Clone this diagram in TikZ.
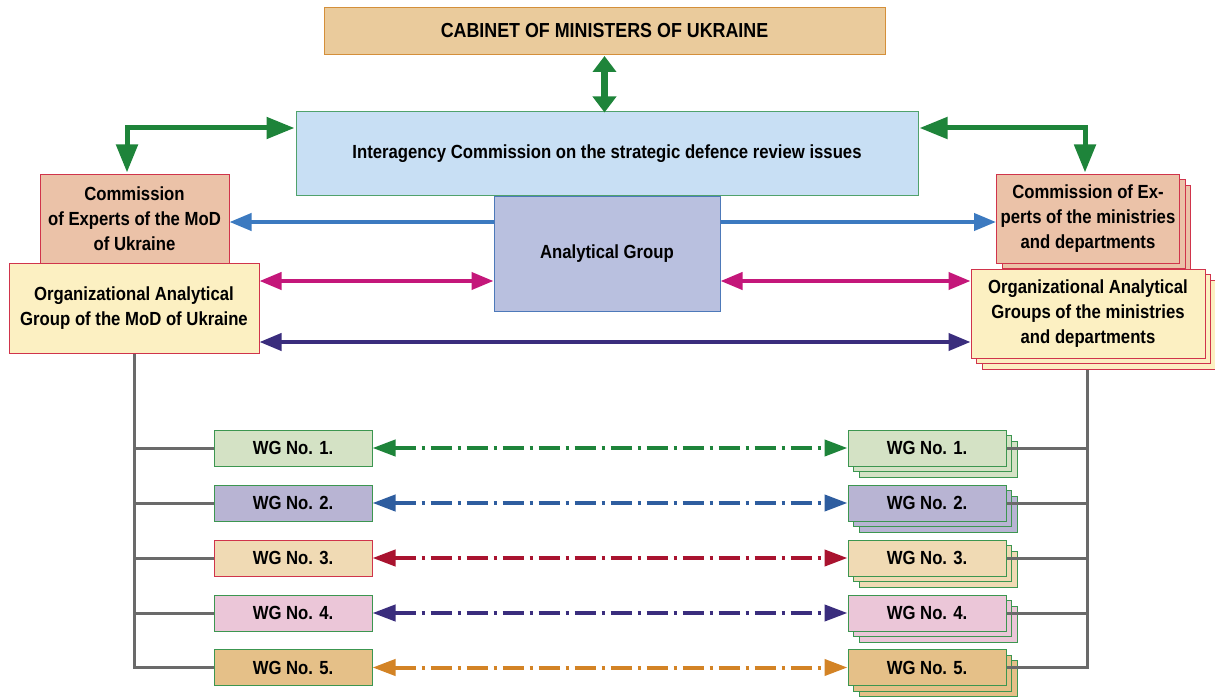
\documentclass[tikz,border=0pt]{standalone}
\usepackage{fontspec}
\setmainfont{Liberation Sans}[FakeStretch=0.88]
\usetikzlibrary{arrows.meta,shadows,backgrounds}
\definecolor{cabfill}{HTML}{EACB9C}
\definecolor{cabdraw}{HTML}{D48F3A}
\definecolor{interfill}{HTML}{C8DFF4}
\definecolor{interdraw}{HTML}{50A26C}
\definecolor{agfill}{HTML}{B9C0DF}
\definecolor{agdraw}{HTML}{4D79B9}
\definecolor{cefill}{HTML}{EBC2A8}
\definecolor{reddraw}{HTML}{D0344B}
\definecolor{oagfill}{HTML}{FCF0C2}
\definecolor{wgone}{HTML}{D4E2C5}
\definecolor{wgtwo}{HTML}{B8B4D3}
\definecolor{wgthree}{HTML}{F0DAB4}
\definecolor{wgfour}{HTML}{EBC6D8}
\definecolor{wgfive}{HTML}{E5C088}
\definecolor{wgdraw}{HTML}{3C9650}
\definecolor{garr}{HTML}{1E843A}
\definecolor{barr}{HTML}{3C7AC0}
\definecolor{marr}{HTML}{C4177A}
\definecolor{parr}{HTML}{3A2D7D}
\definecolor{btwo}{HTML}{2E5D9F}
\definecolor{rthree}{HTML}{A9132F}
\definecolor{ofive}{HTML}{D38325}
\definecolor{linegray}{HTML}{6A6A6A}
\tikzset{
  midtip/.tip={Triangle[width=17pt,length=22pt]},
  bigtip/.tip={Triangle[width=21pt,length=28pt]},
  wgtip/.tip={Triangle[width=16pt,length=23pt]},
  cabtip/.tip={Triangle[width=23pt,length=16pt]},
  box/.style={rectangle, inner sep=0pt, align=center, line width=1pt,
    font=\bfseries\fontsize{19}{25}\selectfont},
  stackbox/.style={copy shadow={shadow xshift=11pt,shadow yshift=-11pt},
    copy shadow={shadow xshift=5.5pt,shadow yshift=-5.5pt}},
  wgbox/.style={box, minimum width=158pt, minimum height=36pt},
  bigarrow/.style={draw=garr, line width=5pt, bigtip-bigtip},
  midarrow/.style={line width=4pt},
  dotarrow/.style={line width=4pt, dash pattern=on 21pt off 6pt on 3pt off 6pt, wgtip-wgtip},
  grayline/.style={draw=linegray, line width=3pt},
}
\begin{document}
\begin{tikzpicture}[x=1pt,y=-1pt]
\useasboundingbox (0,0) rectangle (1215,698);
% top boxes
\node[box, fill=cabfill, draw=cabdraw, minimum width=561pt, minimum height=47pt, font=\bfseries\fontsize{20.3}{25}\selectfont] (cab) at (604.5,31) {CABINET OF MINISTERS OF UKRAINE};
\node[box, fill=interfill, draw=interdraw, minimum width=622pt, minimum height=83pt] (inter) at (607,153.5) {Interagency Commission on the strategic defence review issues};
\node[box, fill=agfill, draw=agdraw, minimum width=226pt, minimum height=115pt] (ag) at (607,254) {Analytical Group};
% left
\node[box, fill=cefill, draw=reddraw, minimum width=189pt, minimum height=89pt] (lce) at (134.5,218.5) {Commission\\of Experts of the MoD\\of Ukraine};
\node[box, fill=oagfill, draw=reddraw, minimum width=250pt, minimum height=90pt] (loag) at (134,308) {Organizational Analytical\\Group of the MoD of Ukraine};
% right
\node[box, stackbox, fill=cefill, draw=reddraw, minimum width=183pt, minimum height=89pt] (rce) at (1088,218.5) {Commission of Ex-\\perts of the ministries\\and departments};
\node[box, stackbox, fill=oagfill, draw=reddraw, minimum width=234pt, minimum height=89pt] (roag) at (1088,313.5) {Organizational Analytical\\Groups of the ministries\\and departments};
% WG left
\node[wgbox, fill=wgone, draw=wgdraw] (wl1) at (293,448) {WG No. 1.};
\node[wgbox, fill=wgtwo, draw=wgdraw] (wl2) at (293,503) {WG No. 2.};
\node[wgbox, fill=wgthree, draw=reddraw] (wl3) at (293,558) {WG No. 3.};
\node[wgbox, fill=wgfour, draw=wgdraw] (wl4) at (293,613) {WG No. 4.};
\node[wgbox, fill=wgfive, draw=wgdraw] (wl5) at (293,667.5) {WG No. 5.};
% WG right
\node[wgbox, stackbox, fill=wgone, draw=wgdraw] (wr1) at (927,448) {WG No. 1.};
\node[wgbox, stackbox, fill=wgtwo, draw=wgdraw] (wr2) at (927,503) {WG No. 2.};
\node[wgbox, stackbox, fill=wgthree, draw=wgdraw] (wr3) at (927,558) {WG No. 3.};
\node[wgbox, stackbox, fill=wgfour, draw=wgdraw] (wr4) at (927,613) {WG No. 4.};
\node[wgbox, stackbox, fill=wgfive, draw=wgdraw] (wr5) at (927,667.5) {WG No. 5.};
% gray tree lines
\begin{scope}[on background layer]
\draw[grayline] (loag.south) -- (loag.south |- wl5.west) -- (wl5.west);
\draw[grayline] ([xshift=-1pt]roag.south) -- ([xshift=-1pt]roag.south |- wr5.east) -- (wr5.east);
\end{scope}
\foreach \i in {1,2,3,4}{
  \draw[grayline] (loag.south |- wl\i.west) -- (wl\i.west);
  \draw[grayline] ([xshift=-1pt]roag.south |- wr\i.east) -- (wr\i.east);
}
\draw[grayline] ([xshift=-1pt]roag.south |- wr5.east) -- (wr5.east);
% cabinet <-> interagency
\draw[draw=garr, line width=7pt, cabtip-cabtip] ([yshift=-1pt]cab.south) -- ([yshift=-1pt]cab.south |- inter.north);
% green bent arrows
\draw[bigarrow] ([xshift=-1pt,yshift=25.5pt]inter.west) -| ([xshift=-7.5pt,yshift=1pt]lce.north);
\draw[bigarrow] ([xshift=1pt,yshift=25.5pt]inter.east) -| ([xshift=-3pt,yshift=1pt]rce.north);
% blue arrows
\coordinate (bl) at ([yshift=32pt]ag.west);
\coordinate (br) at ([yshift=32pt]ag.east);
\draw[midarrow, draw=barr, -midtip] (bl) -- (bl -| lce.east);
\draw[midarrow, draw=barr, -midtip] (br) -- (br -| rce.west);
% magenta arrows
\coordinate (ml) at ([yshift=-27pt]ag.west);
\coordinate (mr) at ([yshift=-27pt]ag.east);
\draw[midarrow, draw=marr, midtip-midtip] (ml) -- (ml -| loag.east);
\draw[midarrow, draw=marr, midtip-midtip] (mr) -- (mr -| roag.west);
% purple arrow
\coordinate (pl) at ([yshift=-34pt]loag.east);
\draw[midarrow, draw=parr, midtip-midtip] (pl) -- (pl -| roag.west);
% WG dash-dot arrows
\draw[dotarrow, draw=garr] (wl1.east) -- (wr1.west);
\draw[dotarrow, draw=btwo] (wl2.east) -- (wr2.west);
\draw[dotarrow, draw=rthree] (wl3.east) -- (wr3.west);
\draw[dotarrow, draw=parr] (wl4.east) -- (wr4.west);
\draw[dotarrow, draw=ofive] (wl5.east) -- (wr5.west);
\end{tikzpicture}
\end{document}
